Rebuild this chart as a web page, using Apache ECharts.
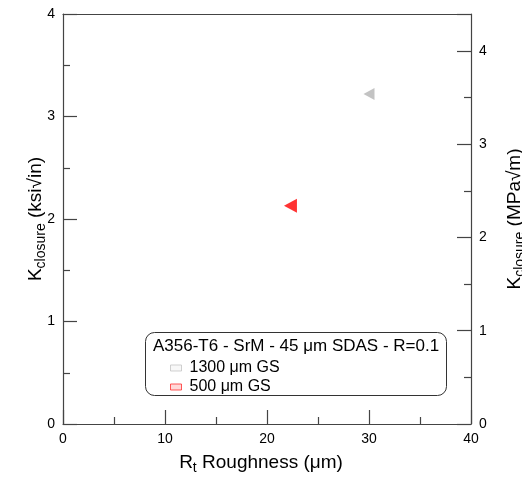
<!DOCTYPE html>
<html>
<head>
<meta charset="utf-8">
<script src="https://cdn.jsdelivr.net/npm/echarts@6/dist/echarts.min.js"></script>
<style>
  html, body { margin: 0; padding: 0; background: #fff; }
  #chart { width: 522px; height: 480px; }
</style>
</head>
<body>
<div id="chart"></div>
<script>
// Crack-closure level vs. fracture-surface roughness
const seriesNames = ['1300 μm GS', '500 μm GS'];
const roughness = [30.0, 22.3];          // Rt roughness, μm
const kClosure = [3.22, 2.13];           // K closure, ksi√in
const seriesColors = ['#b4b4b4', '#ff0000'];
const legendTitle = 'A356-T6 - SrM - 45 μm SDAS - R=0.1';
const KSI_TO_MPA = 1.0988;               // ksi√in -> MPa√m

const font = 'Liberation Sans, Arial, sans-serif';
const axisColor = '#444';

const titleRich = {
  k: { fontSize: 19, fontFamily: font, color: '#000', lineHeight: 22 },
  sub: { fontSize: 14, fontFamily: font, color: '#000', lineHeight: 14, padding: [10, 0, 0, 0] }
};

function axisBase() {
  return {
    axisLine: { show: true, onZero: false, lineStyle: { color: axisColor, width: 1.2 } },
    axisTick: { show: true, inside: true, length: 14, lineStyle: { color: axisColor, width: 1.2 } },
    minorTick: { show: true, splitNumber: 2, length: 7, lineStyle: { color: axisColor, width: 1.2 } },
    splitLine: { show: false }
  };
}

const labelStyle = { color: '#000', fontSize: 14, fontFamily: font };

const chart = echarts.init(document.getElementById('chart'), null, { renderer: 'canvas' });

const option = {
  animation: false,
  backgroundColor: '#fff',
  grid: { left: 63, right: 51, top: 14, bottom: 56, containLabel: false, outerBoundsMode: 'none' },
  xAxis: [
    Object.assign(axisBase(), {
      type: 'value', min: 0, max: 40, interval: 10, position: 'bottom',
      axisLabel: Object.assign({ margin: 8 }, labelStyle),
      name: '{k|R}{sub|t}{k| Roughness (μm)}',
      nameLocation: 'middle', nameGap: 28, nameMoveOverlap: false,
      nameTextStyle: { rich: titleRich, padding: [0, 12, 0, 0] }
    }),
    {
      type: 'value', min: 0, max: 40, position: 'top',
      axisLine: { show: true, onZero: false, lineStyle: { color: axisColor, width: 1.2 } },
      axisTick: { show: false }, axisLabel: { show: false }, splitLine: { show: false }
    }
  ],
  yAxis: [
    Object.assign(axisBase(), {
      type: 'value', min: 0, max: 4, interval: 1, position: 'left',
      axisLabel: Object.assign({ margin: 8 }, labelStyle),
      name: '{k|K}{sub|closure}{k| (ksi√in)}',
      nameLocation: 'middle', nameGap: 16, nameMoveOverlap: false,
      nameTextStyle: { rich: titleRich }
    }),
    Object.assign(axisBase(), {
      type: 'value', min: 0, max: 4 * KSI_TO_MPA, interval: 1, position: 'right',
      axisLabel: Object.assign({ margin: 8, showMaxLabel: false }, labelStyle),
      name: '{k|K}{sub|closure}{k| (MPa√m)}',
      nameLocation: 'middle', nameGap: 33, nameRotate: 90,
      nameTextStyle: { rich: titleRich }
    })
  ],
  legend: {
    orient: 'vertical',
    left: 165, top: 355,
    itemWidth: 11, itemHeight: 6, itemGap: 3,
    textStyle: { fontSize: 16, fontFamily: font, color: '#000', padding: [0, 0, 0, 3] },
    data: [
      { name: seriesNames[0], icon: 'rect', itemStyle: { color: '#f6f6f6', borderColor: '#c4c4c4', borderWidth: 1 } },
      { name: seriesNames[1], icon: 'rect', itemStyle: { color: '#ffd0d0', borderColor: '#ff3030', borderWidth: 1 } }
    ]
  },
  graphic: [
    {
      type: 'rect', z: 1,
      shape: { x: 145.5, y: 332.5, width: 301, height: 63, r: 9 },
      style: { fill: '#fff', stroke: '#333', lineWidth: 1 }
    },
    {
      type: 'text', z: 2, left: 153, top: 338,
      style: { text: legendTitle, fontSize: 17, fontFamily: font, fill: '#000' }
    }
  ],
  series: seriesNames.map((name, i) => ({
    name: name,
    type: 'scatter',
    xAxisIndex: 0, yAxisIndex: 0,
    symbol: 'triangle',
    symbolRotate: 90,
    symbolSize: i === 0 ? [12, 11] : [14, 13],
    itemStyle: { color: seriesColors[i] },
    data: [[roughness[i], kClosure[i]]],
    z: 5
  }))
};

chart.setOption(option);
</script>
</body>
</html>
